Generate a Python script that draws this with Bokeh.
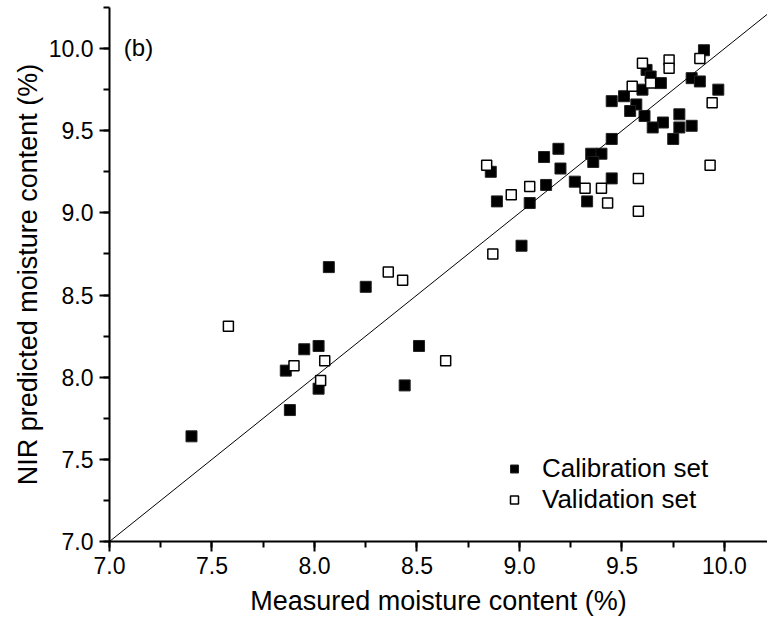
from bokeh.plotting import figure
from bokeh.models import (Range1d, SingleIntervalTicker, NumeralTickFormatter,
                          Slope, Label, Legend, LegendItem, ColumnDataSource)
from bokeh.embed import file_html
from bokeh.resources import INLINE

# ---- data ----
cal_measured = [9.90, 9.62, 9.64, 9.69, 9.60, 9.84, 9.88, 9.97, 9.45, 9.51,
                9.57, 9.54, 9.61, 9.70, 9.65, 9.78, 9.78, 9.84, 9.75, 9.45,
                9.35, 9.40, 9.36, 8.86, 9.19, 9.12, 9.20, 9.27, 9.13, 8.89,
                9.05, 9.45, 9.33, 9.01, 8.07, 8.25, 7.95, 8.02, 7.86, 8.02,
                7.88, 7.40, 8.51, 8.44]
cal_predicted = [9.99, 9.87, 9.83, 9.79, 9.75, 9.82, 9.80, 9.75, 9.68, 9.71,
                 9.66, 9.62, 9.59, 9.55, 9.52, 9.60, 9.52, 9.53, 9.45, 9.45,
                 9.36, 9.36, 9.31, 9.25, 9.39, 9.34, 9.27, 9.19, 9.17, 9.07,
                 9.06, 9.21, 9.07, 8.80, 8.67, 8.55, 8.17, 8.19, 8.04, 7.93,
                 7.80, 7.64, 8.19, 7.95]

val_measured = [9.88, 9.60, 9.73, 9.73, 9.64, 9.55, 9.94, 9.93, 8.84, 9.05,
                8.96, 9.32, 9.40, 9.43, 9.58, 9.58, 8.87, 8.36, 8.43, 7.58,
                7.90, 8.05, 8.03, 8.64]
val_predicted = [9.94, 9.91, 9.93, 9.88, 9.79, 9.77, 9.67, 9.29, 9.29, 9.16,
                 9.11, 9.15, 9.15, 9.06, 9.21, 9.01, 8.75, 8.64, 8.59, 8.31,
                 8.07, 8.10, 7.98, 8.10]

series_names = ["Calibration set", "Validation set"]
x_label = "Measured moisture content (%)"
y_label = "NIR predicted moisture content (%)"
panel_tag = "(b)"

FONT = "Liberation Sans"

p = figure(width=767, height=628, output_backend="svg", toolbar_location=None,
           x_range=Range1d(7.0, 10.21), y_range=Range1d(7.0, 10.25),
           min_border_left=109, min_border_bottom=87, min_border_top=7,
           min_border_right=0)
p.outline_line_color = None
p.xgrid.visible = False
p.ygrid.visible = False
p.background_fill_color = "white"
p.border_fill_color = "white"

for ax in (p.xaxis[0], p.yaxis[0]):
    ax.ticker = SingleIntervalTicker(interval=0.5, num_minor_ticks=2)
    ax.formatter = NumeralTickFormatter(format="0.0")
    ax.axis_line_width = 2
    ax.axis_line_color = "black"
    ax.major_tick_line_width = 2
    ax.minor_tick_line_width = 2
    ax.major_tick_line_color = "black"
    ax.minor_tick_line_color = "black"
    ax.major_tick_out = 10
    ax.major_tick_in = 0
    ax.minor_tick_out = 6
    ax.minor_tick_in = 0
    ax.major_label_text_font = FONT
    ax.major_label_text_font_size = "23px"
    ax.major_label_text_color = "black"
    ax.axis_label_text_font = FONT
    ax.axis_label_text_font_size = "27px"
    ax.axis_label_text_font_style = "normal"
    ax.axis_label_text_color = "black"

p.xaxis.axis_label = x_label
p.yaxis.axis_label = y_label
p.xaxis.major_label_standoff = 5
p.yaxis.major_label_standoff = 6
p.xaxis.axis_label_standoff = 9
p.yaxis.axis_label_standoff = 3

# 1:1 line
p.add_layout(Slope(gradient=1, y_intercept=0, line_color="black", line_width=1))

cal_src = ColumnDataSource(dict(x=cal_measured, y=cal_predicted))
val_src = ColumnDataSource(dict(x=val_measured, y=val_predicted))

r_cal = p.scatter("x", "y", source=cal_src, marker="square", size=11,
                  fill_color="black", line_color="#222222", line_width=1)
r_val = p.scatter("x", "y", source=val_src, marker="square", size=10,
                  fill_color="white", line_color="black", line_width=1.5)

legend = Legend(items=[LegendItem(label=series_names[0], renderers=[r_cal]),
                       LegendItem(label=series_names[1], renderers=[r_val])],
                location=(395, 26), padding=0, margin=0, spacing=0,
                glyph_width=20, glyph_height=31, label_height=31,
                label_standoff=18, label_text_font=FONT,
                label_text_font_size="26px", label_text_color="black",
                border_line_color=None, background_fill_alpha=0)
p.add_layout(legend, "center")

p.add_layout(Label(x=7.07, y=10.007, text=panel_tag, text_font=FONT,
                   text_font_size="24px", text_baseline="middle",
                   text_align="left", text_color="black"))

open("out.html", "w").write(file_html(p, INLINE))
